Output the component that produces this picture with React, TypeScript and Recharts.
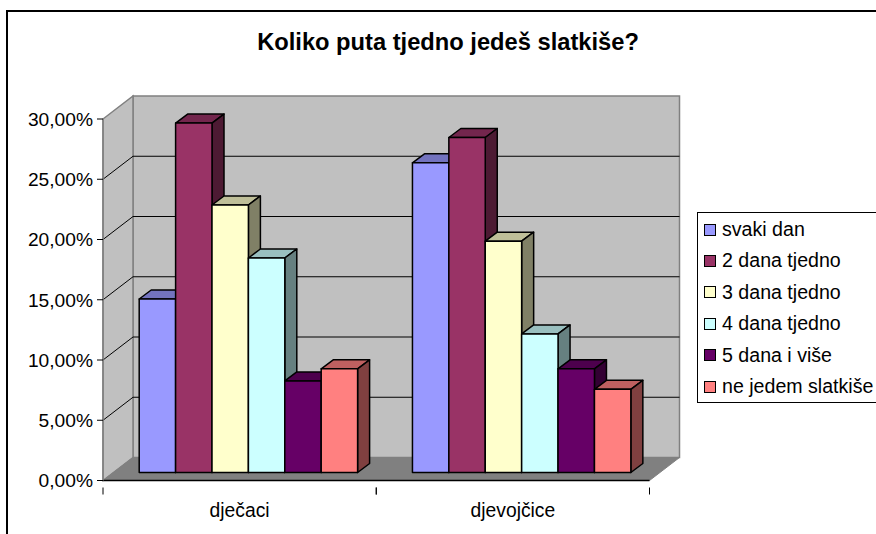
import React from 'react';
import { BarChart, Bar, XAxis, YAxis, CartesianGrid, Legend, usePlotArea } from 'recharts';

const categories = ['dječaci', 'djevojčice'];
const svakiDan = [14.4, 25.7];
const dvaDana = [29.0, 27.8];
const triDana = [22.2, 19.2];
const cetiriDana = [17.8, 11.5];
const petDana = [7.6, 8.6];
const neJedem = [8.6, 6.9];
const yTicks = [0, 5, 10, 15, 20, 25, 30];
const gridTicks = [5, 10, 15, 20, 25];
const floorTick = [0];

const seriesList = [
  { key: 'svaki dan', values: svakiDan, fill: '#9999FF' },
  { key: '2 dana tjedno', values: dvaDana, fill: '#993366' },
  { key: '3 dana tjedno', values: triDana, fill: '#FFFFCC' },
  { key: '4 dana tjedno', values: cetiriDana, fill: '#CCFFFF' },
  { key: '5 dana i više', values: petDana, fill: '#660066' },
  { key: 'ne jedem slatkiše', values: neJedem, fill: '#FF8080' },
];

const data = categories.map((name, i) => {
  const row: Record<string, string | number> = { name };
  seriesList.forEach(s => { row[s.key] = s.values[i]; });
  return row;
});

const FONT = '"Liberation Sans", Arial, sans-serif';
const WALL_DX = 30;
const WALL_DY = -23;
const BAR_DX = 9.2;
const BAR_DY = -8;
const DEPTH_DX = 12;
const DEPTH_DY = -9;

// darken a #rrggbb colour by a factor
const shade = (hex: string, f: number) => {
  const n = parseInt(hex.slice(1), 16);
  const c = (v: number) => Math.round(v * f);
  return `rgb(${c((n >> 16) & 255)},${c((n >> 8) & 255)},${c(n & 255)})`;
};

// side wall, back wall and floor; drawn from a grid line so it stays under the other grid lines
const Walls = (props: any) => {
  const p = usePlotArea();
  if (!p) return null;
  const l = props.x1, r = props.x2, b = props.y1, t = p.y;
  const pts = (a: number[][]) => a.map(q => q.join(',')).join(' ');
  return (
    <g>
      <polygon points={pts([[l + WALL_DX, t + WALL_DY], [r + WALL_DX, t + WALL_DY], [r + WALL_DX, b + WALL_DY], [l + WALL_DX, b + WALL_DY]])} fill="#C0C0C0" stroke="#808080" strokeWidth={1.5} />
      <polygon points={pts([[l, t], [l + WALL_DX, t + WALL_DY], [l + WALL_DX, b + WALL_DY], [l, b]])} fill="#C0C0C0" stroke="#808080" strokeWidth={1.5} />
      <polygon points={pts([[l, b], [l + WALL_DX, b + WALL_DY], [r + WALL_DX, b + WALL_DY], [r, b]])} fill="#808080" stroke="#808080" />
    </g>
  );
};

const Frame = () => (
  <g>
    <path d="M7 534 V11 H876" fill="none" stroke="#000" strokeWidth={2} />
    <text x={448} y={50} textAnchor="middle" fontFamily={FONT} fontWeight="bold" fontSize={23.7} fill="#000">
      Koliko puta tjedno jedeš slatkiše?
    </text>
  </g>
);

const GridLine = (props: any) => {
  const { x1, x2, y1 } = props;
  return (
    <polyline
      points={`${x1},${y1} ${x1 + WALL_DX},${y1 + WALL_DY} ${x2 + WALL_DX},${y1 + WALL_DY}`}
      fill="none"
      stroke="#000"
      strokeWidth={1}
    />
  );
};

const Box3D = (props: any) => {
  const { x, y, width, height, fill } = props;
  const x0 = x + BAR_DX, y0 = y + BAR_DY, x1 = x0 + width, y1 = y0 + height;
  const dx = DEPTH_DX, dy = DEPTH_DY;
  return (
    <g stroke="#000" strokeWidth={1.5} strokeLinejoin="round">
      <polygon points={`${x0},${y0} ${x0 + dx},${y0 + dy} ${x1 + dx},${y0 + dy} ${x1},${y0}`} fill={shade(fill, 0.75)} />
      <polygon points={`${x1},${y0} ${x1 + dx},${y0 + dy} ${x1 + dx},${y1 + dy} ${x1},${y1}`} fill={shade(fill, 0.5)} />
      <rect x={x0} y={y0} width={width} height={height} fill={fill} />
    </g>
  );
};

// category tick: label in the middle, tick marks on the band edges
const CategoryTick = (props: any) => {
  const { x, y, payload, bandWidth } = props;
  return (
    <g>
      <line x1={x - bandWidth / 2} x2={x - bandWidth / 2} y1={y - 1} y2={y + 6} stroke="#000" />
      <line x1={x + bandWidth / 2} x2={x + bandWidth / 2} y1={y - 1} y2={y + 6} stroke="#000" />
      <text x={x} y={y + 28} textAnchor="middle" fontFamily={FONT} fontSize={19.3} fill="#000">{payload.value}</text>
    </g>
  );
};

const LegendBox = (props: any) => (
  <div style={{ width: 200, height: 189, border: '1px solid #000', background: '#fff', boxSizing: 'content-box', fontFamily: FONT, fontSize: 19.6, color: '#000' }}>
    {(props.payload || []).map((e: any, i: number) => (
      <div key={e.value} style={{ position: 'absolute', left: 7, top: 11 + i * 31.4, height: 13, display: 'flex', alignItems: 'center', whiteSpace: 'nowrap' }}>
        <span style={{ display: 'inline-block', width: 10, height: 10, background: e.color, border: '1px solid #000', marginRight: 6 }} />
        <span>{e.value}</span>
      </div>
    ))}
  </div>
);

export default function App() {
  return (
    <div style={{ position: 'absolute', left: 0, top: 0, width: 876, height: 534, overflow: 'hidden', background: '#fff' }}>
      <BarChart
        width={876}
        height={534}
        data={data}
        margin={{ top: 119, right: 226.5, bottom: 0, left: 0 }}
        barGap={0}
        barSize={36.4}
      >
        <CartesianGrid horizontal={<Walls />} vertical={false} horizontalValues={floorTick} />
        <CartesianGrid horizontal={GridLine} vertical={false} horizontalValues={gridTicks} />
        <Frame />
        <XAxis
          dataKey="name"
          height={53.5}
          axisLine={{ stroke: '#000', strokeWidth: 1.5 }}
          tickLine={false}
          interval={0}
          tick={<CategoryTick bandWidth={273.25} />}
        />
        <YAxis
          width={103}
          domain={[0, 30]}
          ticks={yTicks}
          interval={0}
          allowDecimals={false}
          axisLine={{ stroke: '#808080', strokeWidth: 1.5 }}
          tickLine={{ stroke: '#000' }}
          tickSize={6}
          tickMargin={4}
          tickFormatter={(v: number) => `${v.toFixed(2).replace('.', ',')}%`}
          tick={{ fill: '#000', fontSize: 19.2, fontFamily: FONT }}
        />
        {seriesList.map(s => (
          <Bar key={s.key} dataKey={s.key} fill={s.fill} shape={Box3D} isAnimationActive={false} />
        ))}
        <Legend
          layout="vertical"
          align="center"
          verticalAlign="middle"
          itemSorter={null}
          content={LegendBox}
          wrapperStyle={{ left: 697, top: 212, width: 202, height: 191, position: 'absolute' }}
        />
      </BarChart>
    </div>
  );
}
